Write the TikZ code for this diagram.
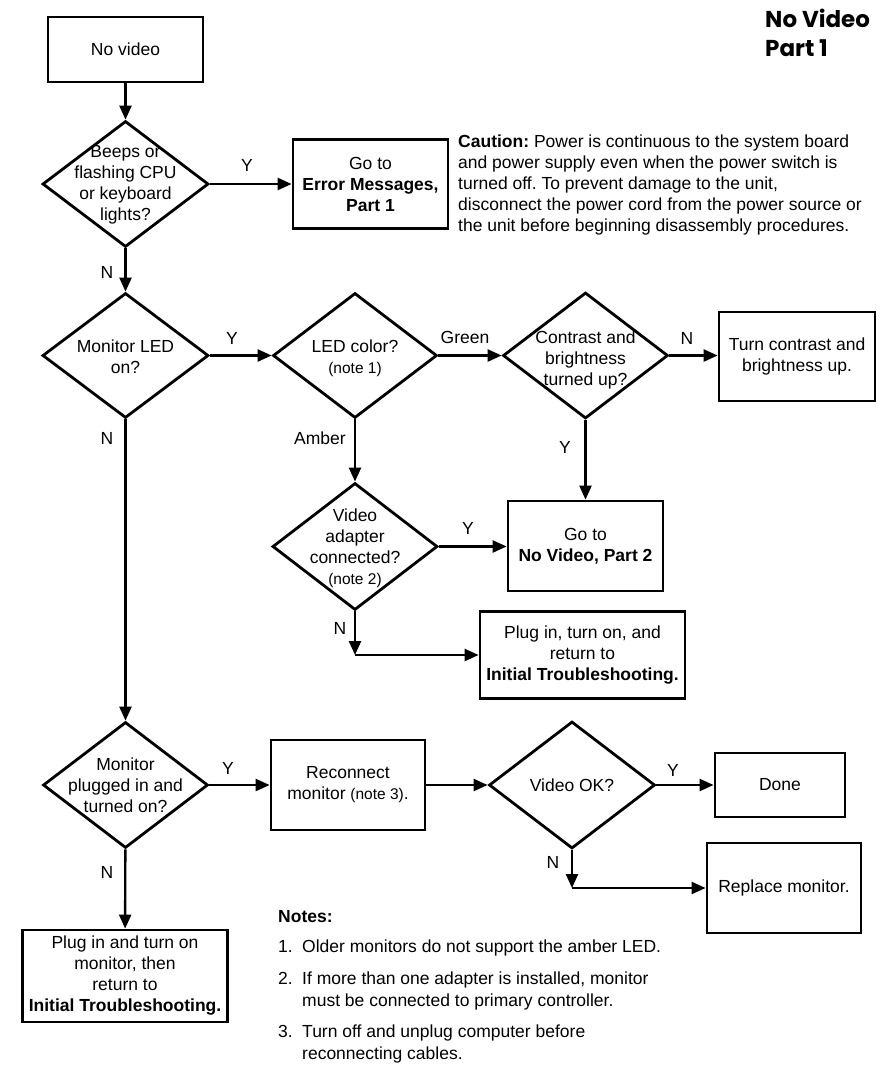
\documentclass[tikz,border=0pt]{standalone}
\usepackage{fontspec}
\setmainfont{Liberation Sans}
\newfontfamily\titlefont{Poppins}
\usetikzlibrary{shapes.geometric,arrows.meta}
\newcommand\notesz{\fontsize{15.5}{21}\selectfont}
\frenchspacing
\begin{document}
\begin{tikzpicture}[x=1pt,y=-1pt,
  every node/.style={font=\fontsize{17.5}{21}\selectfont, inner sep=0pt},
  box/.style={draw, rectangle, line width=2.8pt, align=center},
  dia/.style={draw, diamond, line width=2.8pt},
  dtxt/.style={align=center},
  lbl/.style={},
  conn/.style={line width=2.4pt, -{Triangle[length=14pt,width=12pt]}},
]
\useasboundingbox (0,0) rectangle (883,1072);

% title and caution
\node[anchor=west, align=left, font=\titlefont\bfseries\fontsize{23}{29}\selectfont] (title) at (765,32.5) {No Video\\Part 1};
\node[anchor=west, align=left] (caution) at (458,184.5) {\textbf{Caution:} Power is continuous to the system board\\and power supply even\ when the power switch is\\turned off. To prevent damage to the unit,\\disconnect\ the power cord from the power source or\\the unit before beginning disassembly procedures.};

% nodes
\node[box, minimum width=155pt, minimum height=65pt] (start) at (125.5,49.5) {No video};
\node[dia, minimum width=166pt, minimum height=126pt] (d1) at (125.5,184) {};
\node[dtxt] (d1t) at (125.5,184.5) {Beeps or\\flashing CPU\\or keyboard\\lights?};
\node[box, minimum width=155pt, minimum height=89pt] (err) at (370.5,184) {Go to\\\textbf{Error Messages,}\\\textbf{Part 1}};

\node[dia, minimum width=166pt, minimum height=125pt] (d2) at (125.5,355.5) {};
\node[dtxt] (d2t) at (125.5,357) {Monitor LED\\on?};
\node[dia, minimum width=164pt, minimum height=125pt] (dled) at (355,355.5) {};
\node[dtxt] (dledt) at (355,358) {LED color?\\{\notesz (note 1)}};
\node[dia, minimum width=165pt, minimum height=126pt] (dcon) at (585.5,355.5) {};
\node[dtxt] (dcont) at (585.5,359.5) {Contrast and\\brightness\\turned up?};
\node[box, minimum width=156pt, minimum height=89pt] (turn) at (797,356.5) {Turn contrast and\\brightness up.};

\node[dia, minimum width=165pt, minimum height=127pt] (dva) at (355,546.5) {};
\node[dtxt] (dvat) at (355,548) {Video\\adapter\\connected?\\{\notesz (note 2)}};
\node[box, minimum width=155pt, minimum height=90pt] (nv2) at (585.5,546) {Go to\\\textbf{No Video, Part 2}};
\coordinate (c1) at (355,655);
\node[box, minimum width=205pt, minimum height=87pt] (plug1) at (582.5,655) {Plug in, turn on, and\\return to\\\textbf{Initial Troubleshooting.}};

\node[dia, minimum width=165pt, minimum height=126pt] (dmon) at (125.5,785) {};
\node[dtxt] (dmont) at (125.5,785) {Monitor\\plugged in and\\turned on?};
\node[box, minimum width=154pt, minimum height=90pt] (recon) at (348,785) {Reconnect\\monitor {\notesz (note 3)}.};
\node[dia, minimum width=166pt, minimum height=127pt] (dok) at (572,785) {};
\node[dtxt] (dokt) at (572,785) {Video OK?};
\node[box, minimum width=130pt, minimum height=64pt] (done) at (780,785) {Done};
\coordinate (c2) at (572,888);
\node[box, minimum width=154pt, minimum height=90pt] (repl) at (784,888) {Replace monitor.};
\node[box, minimum width=205pt, minimum height=92pt] (plug2) at (125,976) {Plug in and turn on\\monitor, then\\return to\\\textbf{Initial Troubleshooting.}};

% notes
\node[anchor=west, font=\bfseries\fontsize{17.5}{21}\selectfont] (notes) at (278,917) {Notes:};
\node[anchor=west] (n1) at (278,948) {\makebox[24pt][l]{1.}Older monitors do not support the amber LED.};
\node[anchor=west, font=\fontsize{17.5}{22}\selectfont] (n2) at (278,991) {\begin{tabular}{@{}p{24pt}@{}l@{}}2. & If more than one adapter is installed, monitor\\ & must be connected to primary controller.\end{tabular}};
\node[anchor=west, font=\fontsize{17.5}{22}\selectfont] (n3) at (278,1044) {\begin{tabular}{@{}p{24pt}@{}l@{}}3. & Turn off and unplug computer before\\ & reconnecting cables.\end{tabular}};

% connectors
\draw[conn] (start) -- (d1);
\draw[conn] (d1.east) -- (d1.east -| err.west);
\draw[conn] (d1) -- (d2);
\draw[conn] (d2.east) -- (dled.west);
\draw[conn] (dled.east) -- (dcon.west);
\draw[conn] (dcon.east) -- (dcon.east -| turn.west);
\draw[conn] (dcon) -- (nv2);
\draw[conn] (dled) -- (dva);
\draw[conn] (dva.east) -- (dva.east -| nv2.west);
\draw[conn] (dva.south) -- (c1);
\draw[conn] (c1) -- (c1 -| plug1.west);
\draw[conn] (d2) -- (dmon);
\draw[conn] (dmon.east) -- (recon.west);
\draw[conn] (recon.east) -- (dok.west);
\draw[conn] (dok.east) -- (done.west);
\draw[conn] (dok.south) -- (c2);
\draw[conn] (c2) -- (c2 -| repl.west);
\draw[conn] (dmon) -- (plug2);

% connector labels
\node[lbl] (l1) at (247,165) {Y};
\node[lbl] (l2) at (107,272) {N};
\node[lbl] (l3) at (232,338) {Y};
\node[lbl] (l4) at (107,438) {N};
\node[lbl] (l5) at (320,438) {Amber};
\node[lbl] (l6) at (465,337) {Green};
\node[lbl] (l7) at (687,338) {N};
\node[lbl] (l8) at (565,447) {Y};
\node[lbl] (l9) at (468,528) {Y};
\node[lbl] (l10) at (340,628) {N};
\node[lbl] (l11) at (228,768) {Y};
\node[lbl] (l12) at (107,872) {N};
\node[lbl] (l13) at (673,770) {Y};
\node[lbl] (l14) at (553,862) {N};
\end{tikzpicture}
\end{document}
